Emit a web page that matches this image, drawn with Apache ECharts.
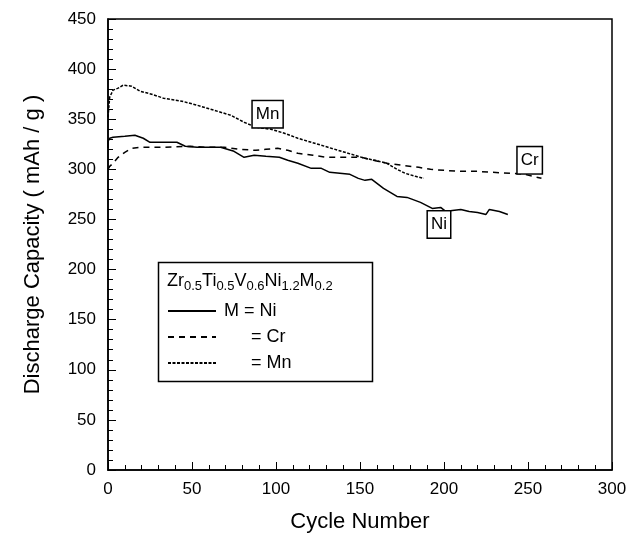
<!DOCTYPE html>
<html lang="en">
<head>
    <meta charset="UTF-8">
    <title>Discharge capacity</title>
    <script src="https://cdn.jsdelivr.net/npm/echarts@6/dist/echarts.min.js"></script>
</head>
<style>
    html, body {
        margin: 0;
        height: 100%;
        background: #fff;
    }
</style>
<body>
<div id="main" style="width: 631px;height:533px"></div>
<script type="text/javascript">
    // M = Ni (solid)
    var niCycle = [0, 0, 1, 3, 10, 16, 21, 25, 33, 41, 46, 53, 60, 67, 75, 81, 87, 94, 102, 107, 113, 121, 127, 132, 138, 144, 149, 153, 157, 164, 172, 178, 186, 193, 198, 201, 205, 210, 215, 220, 225, 227, 233, 238];
    var niCap = [321, 328, 331, 332, 333, 334, 331, 327, 327, 327, 323, 322, 322, 322, 318, 312, 314, 313, 312, 309, 306, 301, 301, 297, 296, 295, 291, 289, 290, 281, 273, 272, 267, 261, 262, 258, 259, 260, 258, 257, 255, 260, 258, 255];
    // = Cr (dashed)
    var crCycle = [0, 1, 3, 6, 10, 14, 19, 33, 49, 58, 69, 78, 88, 94, 101, 107, 113, 122, 130, 141, 151, 158, 166, 175, 185, 192, 200, 210, 220, 229, 240, 248, 253, 258];
    var crCap = [300, 303, 306, 312, 317, 321, 322, 322, 323, 322, 322, 320, 319, 320, 321, 319, 316, 314, 312, 312, 312, 309, 306, 304, 302, 300, 299, 298, 298, 297, 296, 295, 293, 291];
    // = Mn (dotted)
    var mnCycle = [0, 1, 3, 6, 9, 14, 19, 26, 33, 44, 53, 63, 73, 81, 88, 97, 105, 113, 121, 131, 141, 147, 153, 159, 166, 172, 177, 183, 188];
    var mnCap = [352, 372, 379, 381, 384, 383, 378, 375, 371, 368, 364, 359, 354, 347, 342, 340, 336, 331, 327, 322, 317, 314, 311, 309, 306, 300, 296, 293, 291];

    // boxed curve tags
    var tagNames = ['Mn', 'Ni', 'Cr'];
    var tagCycle = [95, 197, 251];
    var tagCap = [355, 245, 309];

    function pairs(xs, ys) {
        var out = [];
        for (var i = 0; i < xs.length; i++) out.push([xs[i], ys[i]]);
        return out;
    }

    var font = 'Liberation Sans, Arial, sans-serif';
    var tagData = [];
    for (var i = 0; i < tagNames.length; i++) {
        tagData.push({name: tagNames[i], coord: [tagCycle[i], tagCap[i]], value: tagNames[i]});
    }

    var myChart = echarts.init(document.getElementById('main'));
    var option = {
        backgroundColor: '#fff',
        animation: false,
        grid: {
            left: 108, right: 19, top: 19, bottom: 63,
            outerBoundsMode: 'none',
            show: true, borderColor: '#000', borderWidth: 1.5
        },
        xAxis: {
            type: 'value', min: 0, max: 300, interval: 50,
            name: 'Cycle Number', nameLocation: 'middle', nameGap: 41,
            nameTextStyle: {fontFamily: font, fontSize: 22, color: '#000'},
            axisLine: {lineStyle: {color: '#000', width: 1.5}},
            axisTick: {inside: true, length: 8, lineStyle: {color: '#000'}},
            minorTick: {show: true, splitNumber: 5, length: 5, lineStyle: {color: '#000'}},
            axisLabel: {fontFamily: font, fontSize: 17, color: '#000', margin: 11},
            splitLine: {show: false}
        },
        yAxis: {
            type: 'value', min: 0, max: 450, interval: 50,
            name: 'Discharge Capacity ( mAh / g )', nameLocation: 'middle', nameGap: 64,
            nameTextStyle: {fontFamily: font, fontSize: 22, color: '#000'},
            axisLine: {lineStyle: {color: '#000', width: 1.5}},
            axisTick: {inside: true, length: 8, lineStyle: {color: '#000'}},
            minorTick: {show: true, splitNumber: 5, length: 5, lineStyle: {color: '#000'}},
            axisLabel: {fontFamily: font, fontSize: 17, color: '#000', margin: 12},
            splitLine: {show: false}
        },
        legend: {
            orient: 'vertical', left: 167, top: 302, itemGap: 8, padding: 0,
            itemWidth: 48, itemHeight: 18,
            itemStyle: {opacity: 0},
            textStyle: {
                fontFamily: font, fontSize: 18, color: '#000', lineHeight: 18,
                rich: {
                    p: {width: 27},
                    t: {fontFamily: font, fontSize: 18, color: '#000', lineHeight: 18, padding: [0, 0, 0, 3]}
                }
            },
            formatter: function (name) {
                return name.charAt(0) === 'M' ? '{t|' + name + '}' : '{p|}{t|' + name + '}';
            },
            data: ['M = Ni', '= Cr', '= Mn']
        },
        graphic: [{
            type: 'rect', left: 156, top: 260,
            shape: {width: 214, height: 119},
            style: {fill: 'none', stroke: '#000', lineWidth: 1.5}
        }, {
            type: 'text', left: 167, top: 270,
            style: {
                text: '{n|Zr}{s|0.5}{n|Ti}{s|0.5}{n|V}{s|0.6}{n|Ni}{s|1.2}{n|M}{s|0.2}',
                rich: {
                    n: {fontFamily: font, fontSize: 18, fill: '#000', lineHeight: 22},
                    s: {fontFamily: font, fontSize: 13, fill: '#000', lineHeight: 22, padding: [10, 0, 0, 0]}
                }
            }
        }],
        series: [{
            name: 'M = Ni', type: 'line', data: pairs(niCycle, niCap),
            symbol: 'none', lineStyle: {color: '#000', width: 1.5, type: 'solid'},
            itemStyle: {color: '#000'},
            markPoint: {
                symbol: 'rect', symbolSize: 1, itemStyle: {color: 'rgba(0,0,0,0)'},
                label: {
                    show: true, formatter: '{b}', fontFamily: font, fontSize: 17, color: '#000',
                    backgroundColor: '#fff', borderColor: '#000', borderWidth: 1.5, padding: [5, 3, 4, 3]
                },
                data: tagData
            }
        }, {
            name: '= Cr', type: 'line', data: pairs(crCycle, crCap),
            symbol: 'none', lineStyle: {color: '#000', width: 1.5, type: [6, 5]},
            itemStyle: {color: '#000'}
        }, {
            name: '= Mn', type: 'line', data: pairs(mnCycle, mnCap),
            symbol: 'none', lineStyle: {color: '#000', width: 1.5, type: [3, 1.5]},
            itemStyle: {color: '#000'}
        }]
    };
    myChart.setOption(option);
</script>
</body>
</html>
